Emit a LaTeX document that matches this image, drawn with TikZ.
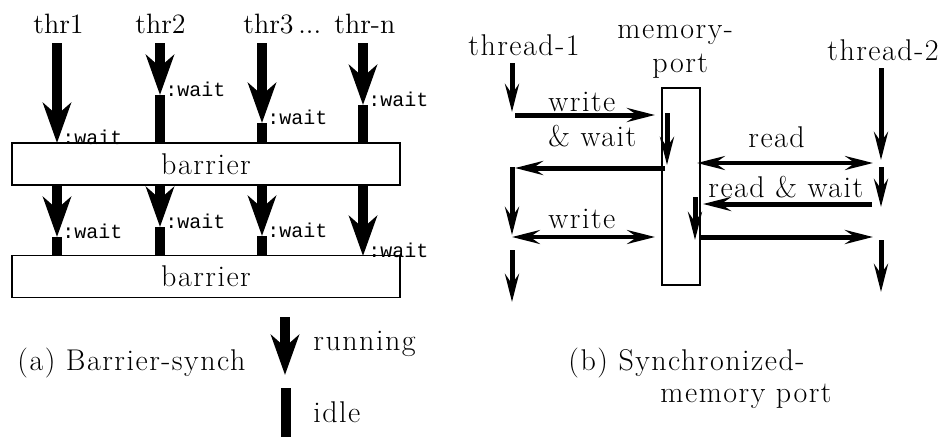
\documentclass[tikz,border=0pt]{standalone}
\usepackage{fontspec}
\setmonofont{Liberation Mono}
\newfontfamily\spacedrm{Latin Modern Roman}[LetterSpace=5]
\usetikzlibrary{arrows.meta}

\tikzset{
    txt/.style={anchor=base west, inner sep=0pt, font=\spacedrm\fontsize{15}{18}\selectfont},
    thrlbl/.style={anchor=base west, inner sep=0pt, font=\fontsize{14}{17}\selectfont},
    waitlbl/.style={anchor=base west, inner sep=0pt, font=\ttfamily\fontsize{10}{12}\selectfont},
    run/.style={line width=5pt, -{Stealth[length=20pt, width=14pt, inset=6pt]}},
    idle/.style={line width=5pt},
    barrierbox/.style={draw, line width=0.6pt, minimum width=194pt, minimum height=21pt, txt, anchor=center},
    flow/.style={line width=2.5pt, -{Stealth[length=14pt, width=7pt, inset=5pt]}},
    both/.style={line width=2pt, {Stealth[length=14pt, width=7pt, inset=5pt]}-{Stealth[length=14pt, width=7pt, inset=5pt]}},
}

\begin{document}
\begin{tikzpicture}[x=0.5pt, y=-0.5pt]
    \useasboundingbox (0,0) rectangle (947,440);

    % (a) barrier synchronisation
    \node[thrlbl] (thr1) at (33,33) {thr1};
    \node[thrlbl] (thr2) at (135,33) {thr2};
    \node[thrlbl] (thr3) at (243,33) {thr3\,...};
    \node[thrlbl] (thrn) at (334,33) {thr-n};

    \node[barrierbox] (bar1) at (206,164) {barrier};
    \node[barrierbox] (bar2) at (206,276.5) {barrier};

    % x of thread / tip above bar1 / tip above bar2
    \foreach \x/\ta/\tb in {57/143/237, 160/95/227, 262/123/236, 363/105/256} {
        \draw[run] (\x,43) -- (\x,\ta);
        \draw[idle] (\x,\ta) -- (\x,143);
        \node[waitlbl] at (\x+5,\ta+1) {:wait};
        \draw[run] (\x,185) -- (\x,\tb);
        \draw[idle] (\x,\tb) -- (\x,256);
        \node[waitlbl] at (\x+5,\tb+1) {:wait};
    }

    \node[txt] (capa) at (17,370) {(a) Barrier-synch};
    \draw[run] (285,317) -- (285,375);
    \node[txt] (running) at (313,350) {running};
    \draw[idle] (286,388) -- (286,437);
    \node[txt] (idle) at (313,422) {idle};

    % (b) synchronized memory port
    \node[txt] (th1) at (468,55) {thread-1};
    \node[txt] (mem) at (617,38) {memory-};
    \node[txt] (memp) at (652,72) {port};
    \node[txt] (th2) at (827,60) {thread-2};
    \node[draw, line width=0.6pt, minimum width=19pt, minimum height=98.5pt] (port) at (681,186.5) {};

    % thread-1
    \draw[flow] (512,63) -- (512,112);
    \draw[flow] (515,115) -- (655,115);
    \node[txt] (wr1) at (548,111) {write};
    \node[txt] (wr2) at (548,146) {\&~wait};
    \draw[flow] (667,113) -- (667,165);
    \draw[flow] (665,168) -- (515,168);
    \draw[flow] (512,167) -- (512,235);
    \draw[both] (512,237) -- (655,237);
    \node[txt] (wr3) at (548,228) {write};
    \draw[flow] (512,250) -- (512,302);

    % thread-2
    \draw[flow] (881,68) -- (881,160);
    \draw[both] (697,163) -- (873,163);
    \node[txt] (rd1) at (748,147) {read};
    \draw[flow] (881,167) -- (881,207);
    \draw[flow] (872,204) -- (703,204);
    \node[txt] (rd2) at (708,197) {read \& wait};
    \draw[flow] (695,197) -- (695,240);
    \draw[flow] (701,237) -- (873,237);
    \draw[flow] (881,240) -- (881,292);

    \node[txt] (capb) at (568,370) {(b) Synchronized-};
    \node[txt] (capb2) at (660,402) {memory port};
\end{tikzpicture}
\end{document}
